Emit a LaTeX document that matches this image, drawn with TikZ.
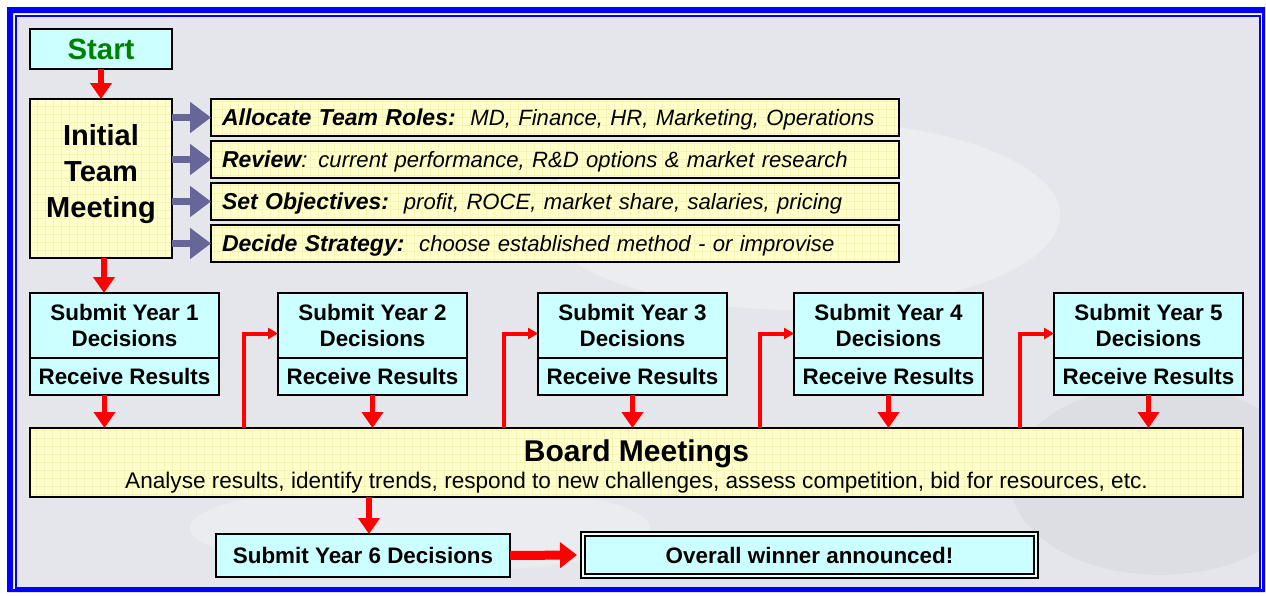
\documentclass[tikz,border=0pt]{standalone}
\usepackage{fontspec}
\setmainfont{Liberation Sans}
\usetikzlibrary{arrows.meta}
\definecolor{boxcyan}{HTML}{CCFFFF}
\definecolor{boxyellow}{HTML}{FFFFCC}
\definecolor{gridyellow}{HTML}{F6F3B4}
\definecolor{flowred}{HTML}{FF0000}
\definecolor{slate}{HTML}{666699}
\definecolor{frameblue}{HTML}{0000FF}
\definecolor{panelgray}{HTML}{E5E6EB}
\definecolor{shadegray}{HTML}{CFD1D8}
\definecolor{startgreen}{HTML}{008000}
\newcommand\boxfont{\fontsize{22.4}{26}\selectfont\bfseries}
\newcommand\itemfont{\fontsize{22.1}{26}\selectfont\itshape}
\newcommand\itemhead[1]{{\fontsize{23}{26}\selectfont\bfseries #1}}
\begin{document}
\begin{tikzpicture}[x=1pt,y=-1pt,
  cyanbox/.style={draw=black, line width=2pt, fill=boxcyan, inner sep=0pt, outer sep=0pt,
    anchor=north west, align=center, font=\boxfont},
  yellowbox/.style={draw=black, line width=2pt, fill=boxyellow, inner sep=0pt, outer sep=0pt,
    anchor=north west,
    path picture={\draw[gridyellow, line width=0.5pt, step=8pt]
      (path picture bounding box.south west) grid (path picture bounding box.north east);}},
  itembox/.style={yellowbox, minimum width=688pt, minimum height=37pt, text width=666pt,
    inner xsep=11pt, align=left, font=\itemfont, text height=15.8pt, text depth=0pt},
  topbox/.style={cyanbox, minimum width=189pt, minimum height=65pt},
  botbox/.style={cyanbox, minimum width=189pt, minimum height=37pt},
  redarrow/.style={draw=flowred, line width=5.5pt, -{Triangle[width=21pt,length=16pt]}},
  fbarrow/.style={draw=flowred, line width=4pt, -{Triangle[width=11pt,length=10pt]}},
  slatearrow/.style={draw=slate, line width=7pt, -{Triangle[width=30pt,length=21pt]}},
  bigarrow/.style={draw=flowred, line width=9pt, -{Triangle[width=25pt,length=17pt]}}
]
% page, frame and panel
\fill[white] (0,0) rectangle (1266,595);
\fill[frameblue, even odd rule] (7,7) rectangle (1265,592) (13,13) rectangle (1262,589);
\fill[panelgray] (16,16) rectangle (1260,588);
\begin{scope}
  \clip (16,16) rectangle (1260,588);
  \fill[white, opacity=0.3] (800,215) ellipse [x radius=260, y radius=95];
  \fill[white, opacity=0.25] (420,528) ellipse [x radius=230, y radius=45];
  \fill[shadegray, opacity=0.35] (1160,480) ellipse [x radius=150, y radius=95];
\end{scope}
\draw[frameblue, line width=1.2pt] (16,16) rectangle (1260,588);

% start and initial meeting
\node[cyanbox, minimum width=142pt, minimum height=40pt,
  font=\fontsize{29.4}{34}\selectfont\bfseries, text=startgreen] (start) at (30,29) {Start};
\node[yellowbox, minimum width=142pt, minimum height=159pt] (init) at (30,99) {};
\node[align=center, font=\fontsize{29}{36}\selectfont\bfseries, inner sep=0pt]
  (initlbl) at ([yshift=4.5pt]init.center) {Initial\\Team\\Meeting};

% tasks of the first meeting
\node[itembox] (item1) at (211,99)
  {\itemhead{Allocate Team Roles:}\ \ MD, Finance, HR, Marketing, Operations};
\node[itembox] (item2) at (211,141)
  {\itemhead{Review}: current performance, R\&D options \& market research};
\node[itembox] (item3) at (211,183)
  {\itemhead{Set Objectives:}\ \ profit, ROCE, market share, salaries, pricing};
\node[itembox] (item4) at (211,225)
  {\itemhead{Decide Strategy:}\ \ choose established method - or improvise};
\foreach \i in {1,...,4}
  \draw[slatearrow] (init.east |- item\i.west) -- (item\i.west);

% yearly decision rounds
\foreach \n/\x in {1/30, 2/278, 3/538, 4/794, 5/1054} {
  \node[topbox] (yr\n top) at (\x,293) {Submit Year \n\\Decisions};
  \node[botbox] (yr\n bot) at (\x,358) {Receive Results};
}

% board meetings
\node[yellowbox, minimum width=1213pt, minimum height=69pt, align=center] (board) at (30,428) {};
\node[align=center, inner sep=0pt] (boardlbl) at ([yshift=-4pt]board.center)
  {\fontsize{30}{34}\selectfont\bfseries Board Meetings\\[3pt]%
   \fontsize{22.6}{26}\selectfont\mdseries Analyse results, identify trends, respond to new challenges, assess competition, bid for resources, etc.};

% final round
\node[cyanbox, minimum width=294pt, minimum height=43pt] (yr6) at (216,534)
  {Submit Year 6 Decisions};
\node[draw=black, line width=1.8pt, double=boxcyan!40!white, double distance=2.6pt,
  fill=boxcyan, minimum width=453pt, minimum height=42pt, inner sep=0pt, outer sep=0pt,
  font=\boxfont] (winner) at (809.5,555) {Overall winner announced!};

% connectors
\draw[redarrow] (start.south) -- (init.north);
\draw[redarrow] ([xshift=3pt]init.south) -- ([xshift=3pt]init.south |- yr1top.north);
\draw[redarrow] ([xshift=-20pt]yr1bot.south) -- ([xshift=-20pt]yr1bot.south |- board.north);
\foreach \n in {2,...,5}
  \draw[redarrow] (yr\n bot.south) -- (yr\n bot.south |- board.north);
\foreach \n in {2,...,5}
  \draw[fbarrow] ([xshift=-34pt]yr\n top.west |- board.north) |- ([yshift=-8pt]yr\n top.west);
\draw[redarrow] ([xshift=6pt]yr6.north |- board.south) -- ([xshift=6pt]yr6.north);
\draw[bigarrow] (yr6.east) -- ([xshift=-6pt]winner.west);
\end{tikzpicture}
\end{document}
